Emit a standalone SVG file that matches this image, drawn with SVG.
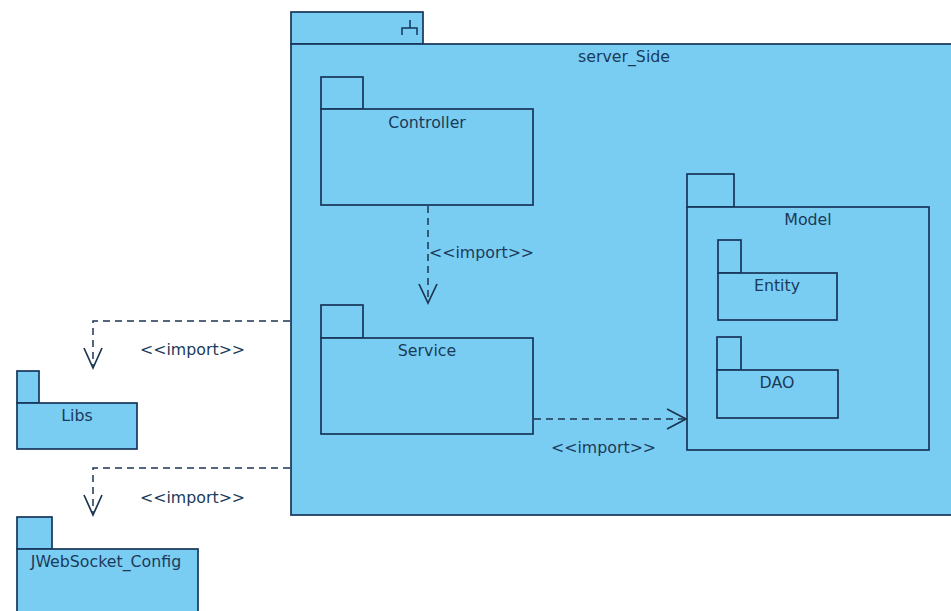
<svg xmlns="http://www.w3.org/2000/svg" width="951" height="611" viewBox="0 0 951 611">
<defs>
<style>
.pk{fill:#7acdf2;stroke:#17355a;stroke-width:1.7}
.lbl{font-family:"DejaVu Sans",sans-serif;font-size:15.8px;fill:#1a3a5a;text-anchor:middle}
.imp{font-family:"DejaVu Sans",sans-serif;font-size:15.8px;fill:#1a3a5a}
.dash{fill:none;stroke:#1c3550;stroke-width:1.5;stroke-dasharray:7 5}
.head{fill:none;stroke:#1c3550;stroke-width:1.7}
</style>
</defs>
<rect width="951" height="611" fill="#ffffff"/>
<g id="server_Side">
<rect class="pk" x="291" y="12" width="132" height="32"/>
<rect class="pk" x="291" y="44" width="670" height="471"/>
<path d="M410 20V28M402 35V28H417V35" fill="none" stroke="#17355a" stroke-width="1.5"/>
<text class="lbl" x="624" y="62">server_Side</text>
</g>
<g id="Controller">
<rect class="pk" x="321" y="77" width="42" height="32"/>
<rect class="pk" x="321" y="109" width="212" height="96"/>
<text class="lbl" x="427" y="128">Controller</text>
</g>
<g id="Service">
<rect class="pk" x="321" y="305" width="42" height="33"/>
<rect class="pk" x="321" y="338" width="212" height="96"/>
<text class="lbl" x="427" y="356">Service</text>
</g>
<g id="Model">
<rect class="pk" x="687" y="174" width="47" height="33"/>
<rect class="pk" x="687" y="207" width="242" height="243"/>
<text class="lbl" x="808" y="225">Model</text>
</g>
<g id="Entity">
<rect class="pk" x="718" y="240" width="23" height="33"/>
<rect class="pk" x="718" y="273" width="119" height="47"/>
<text class="lbl" x="777" y="291">Entity</text>
</g>
<g id="DAO">
<rect class="pk" x="717" y="337" width="24" height="33"/>
<rect class="pk" x="717" y="370" width="121" height="48"/>
<text class="lbl" x="777" y="388">DAO</text>
</g>
<g id="Libs">
<rect class="pk" x="17" y="371" width="22" height="32"/>
<rect class="pk" x="17" y="403" width="120" height="46"/>
<text class="lbl" x="77" y="421">Libs</text>
</g>
<g id="JWebSocket_Config">
<rect class="pk" x="17" y="517" width="35" height="32"/>
<rect class="pk" x="17" y="549" width="181" height="70"/>
<text class="lbl" x="106" y="567">JWebSocket_Config</text>
</g>
<g id="connectors">
<path class="dash" d="M428 206V302"/>
<path class="head" d="M419 284L428 303L437 284"/>
<text class="imp" x="429" y="258">&lt;&lt;import&gt;&gt;</text>
<path class="dash" d="M534 419H685"/>
<path class="head" d="M667 409L686 419L667 429"/>
<text class="imp" x="551" y="453">&lt;&lt;import&gt;&gt;</text>
<path class="dash" d="M290 321H93V366"/>
<path class="head" d="M84 348L93 368L102 348"/>
<text class="imp" x="140" y="355">&lt;&lt;import&gt;&gt;</text>
<path class="dash" d="M290 468H93V513"/>
<path class="head" d="M84 495L93 515L102 495"/>
<text class="imp" x="140" y="503">&lt;&lt;import&gt;&gt;</text>
</g>
</svg>
